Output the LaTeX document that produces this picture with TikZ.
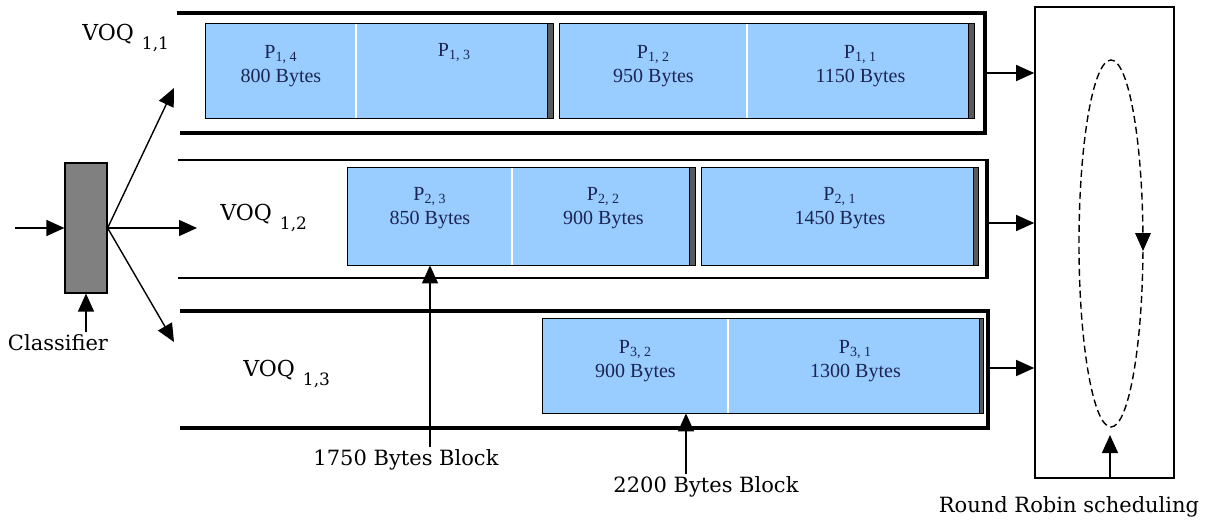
\documentclass[tikz,border=0pt]{standalone}
\usepackage{fontspec}
\setmainfont{Liberation Serif}
\newfontfamily\slabfont{DejaVu Serif}
\usetikzlibrary{arrows.meta}
\definecolor{pkt}{HTML}{99CCFF}
\definecolor{pktink}{HTML}{1C2452}
\definecolor{clsgray}{HTML}{808080}
\definecolor{bargray}{HTML}{5A5A5A}
\newcommand{\voqname}[1]{VOQ\hspace{4pt}\raisebox{-4.5pt}{\fontsize{8.5}{10}\selectfont #1}}
\newcommand{\pname}[2]{P\textsubscript{#1, #2}}

\begin{document}
\begin{tikzpicture}[
  x=0.5pt, y=-0.5pt,
  cell/.style={rectangle, fill=pkt, inner sep=0pt, minimum height=47pt},
  pktxt/.style={text=pktink, font=\fontsize{10}{12}\selectfont, align=center, yshift=2.5pt},
  blk/.style={draw=black, line width=.6pt},
  divider/.style={draw=white, line width=1pt},
  bar/.style={fill=bargray, draw=black, line width=.4pt},
  qthick/.style={line width=2pt},
  qthin/.style={line width=1pt},
  arr/.style={-{Triangle[length=9pt,width=8pt]}, line width=.7pt},
  txt/.style={font=\slabfont\fontsize{10.5}{12}\selectfont, inner sep=1pt},
  voq/.style={font=\slabfont\fontsize{11}{13}\selectfont, anchor=base west, inner sep=0pt}
]
  \useasboundingbox (0,0) rectangle (1207,520);

  % queues
  \draw[qthick] (177,13) -- (985,13) -- (985,133) -- (180,133);
  \draw[qthin] (178,160) -- (987,160);
  \draw[qthin] (987,278) -- (178,278);
  \draw[qthick] (987,159) -- (987,279);
  \draw[qthick] (180,311) -- (988,311) -- (988,428) -- (180,428);

  \node[voq] (v1) at (82,40) {\voqname{1,1}};
  \node[voq] (v2) at (220,220) {\voqname{1,2}};
  \node[voq] (v3) at (243,376) {\voqname{1,3}};

  % VOQ 1,1
  \node[cell, minimum width=75pt] (p14) at (281,71)
    {}; \path (p14.center) node[pktxt] {\pname{1}{4}\\800 Bytes};
  \node[cell, minimum width=98.5pt] (p13) at (454.5,71)
    {}; \path (p13.center) node[pktxt] {\pname{1}{3}\\\strut};
  \node[cell, minimum width=93.5pt] (p12) at (653.5,71)
    {}; \path (p12.center) node[pktxt] {\pname{1}{2}\\950 Bytes};
  \node[cell, minimum width=113.5pt] (p11) at (860.5,71)
    {}; \path (p11.center) node[pktxt] {\pname{1}{1}\\1150 Bytes};

  % VOQ 1,2
  \node[cell, minimum width=82pt, minimum height=48.5pt] (p23) at (430,216.5)
    {}; \path (p23.center) node[pktxt, yshift=1.5pt] {\pname{2}{3}\\850 Bytes};
  \node[cell, minimum width=91.5pt, minimum height=48.5pt] (p22) at (603.5,216.5)
    {}; \path (p22.center) node[pktxt, yshift=1.5pt] {\pname{2}{2}\\900 Bytes};
  \node[cell, minimum width=138pt, minimum height=48.5pt] (p21) at (840,216.5)
    {}; \path (p21.center) node[pktxt, yshift=1.5pt] {\pname{2}{1}\\1450 Bytes};

  % VOQ 1,3
  \node[cell, minimum width=92.5pt] (p32) at (635.5,366)
    {}; \path (p32.center) node[pktxt] {\pname{3}{2}\\900 Bytes};
  \node[cell, minimum width=127.5pt] (p31) at (855.5,366)
    {}; \path (p31.center) node[pktxt] {\pname{3}{1}\\1300 Bytes};

  % blocks
  \draw[divider] (p14.north east) -- (p14.south east);
  \draw[divider] (p12.north east) -- (p12.south east);
  \draw[divider] (p23.north east) -- (p23.south east);
  \draw[divider] (p32.north east) -- (p32.south east);
  \draw[bar] ([xshift=-3pt]p13.north east) rectangle (p13.south east);
  \draw[bar] ([xshift=-3pt]p11.north east) rectangle (p11.south east);
  \draw[bar] ([xshift=-3pt]p22.north east) rectangle (p22.south east);
  \draw[bar] ([xshift=-2.5pt]p21.north east) rectangle (p21.south east);
  \draw[bar] ([xshift=-2pt]p31.north east) rectangle (p31.south east);
  \draw[blk] (p14.north west) rectangle (p13.south east);
  \draw[blk] (p12.north west) rectangle (p11.south east);
  \draw[blk] (p23.north west) rectangle (p22.south east);
  \draw[blk] (p21.north west) rectangle (p21.south east);
  \draw[blk] (p32.north west) rectangle (p31.south east);

  % classifier
  \node[draw, fill=clsgray, line width=.6pt, minimum width=21pt, minimum height=65pt,
    inner sep=0pt] (cls) at (86,228) {};
  \node[txt] (clsl) at (58,343) {Classifier};
  \coordinate (src) at (15,228);
  \coordinate (t1) at (174,88);
  \coordinate (t2) at (197,228);
  \coordinate (t3) at (174,342);
  \draw[arr] (src) -- (cls.west);
  \draw[arr] (cls.east) -- (t1);
  \draw[arr] (cls.east) -- (t2);
  \draw[arr] (cls.east) -- (t3);
  \draw[arr] (clsl.north -| cls.south) -- (cls.south);

  % scheduler
  \node[draw, line width=.8pt, minimum width=69.5pt, minimum height=235.5pt,
    inner sep=0pt] (sched) at (1104.5,242.5) {};
  \coordinate (q1out) at (985,73);
  \coordinate (q2out) at (987,223);
  \coordinate (q3out) at (988,368);
  \draw[arr] (q1out) -- (q1out -| sched.west);
  \draw[arr] (q2out) -- (q2out -| sched.west);
  \draw[arr] (q3out) -- (q3out -| sched.west);
  \draw[line width=.7pt, dash pattern=on 3.5pt off 2pt]
    (1111,243.5) ellipse [x radius=16pt, y radius=91.75pt];
  \fill (1135,233) -- (1151,233) -- (1143,251) -- cycle;
  \node[txt] (rrl) at (1069,507) {Round Robin scheduling};
  \coordinate (rrtip) at (1110,435);
  \draw[arr] (sched.south -| rrtip) -- (rrtip);

  % block sizes
  \node[txt] (b1750) at (406,460) {1750 Bytes Block};
  \node[txt] (b2200) at (706,487) {2200 Bytes Block};
  \coordinate (c2200) at (686,0);
  \draw[arr] (b1750.north -| p23.south) -- (p23.south);
  \draw[arr] (b2200.north -| c2200) -- (p32.south -| c2200);
\end{tikzpicture}
\end{document}
